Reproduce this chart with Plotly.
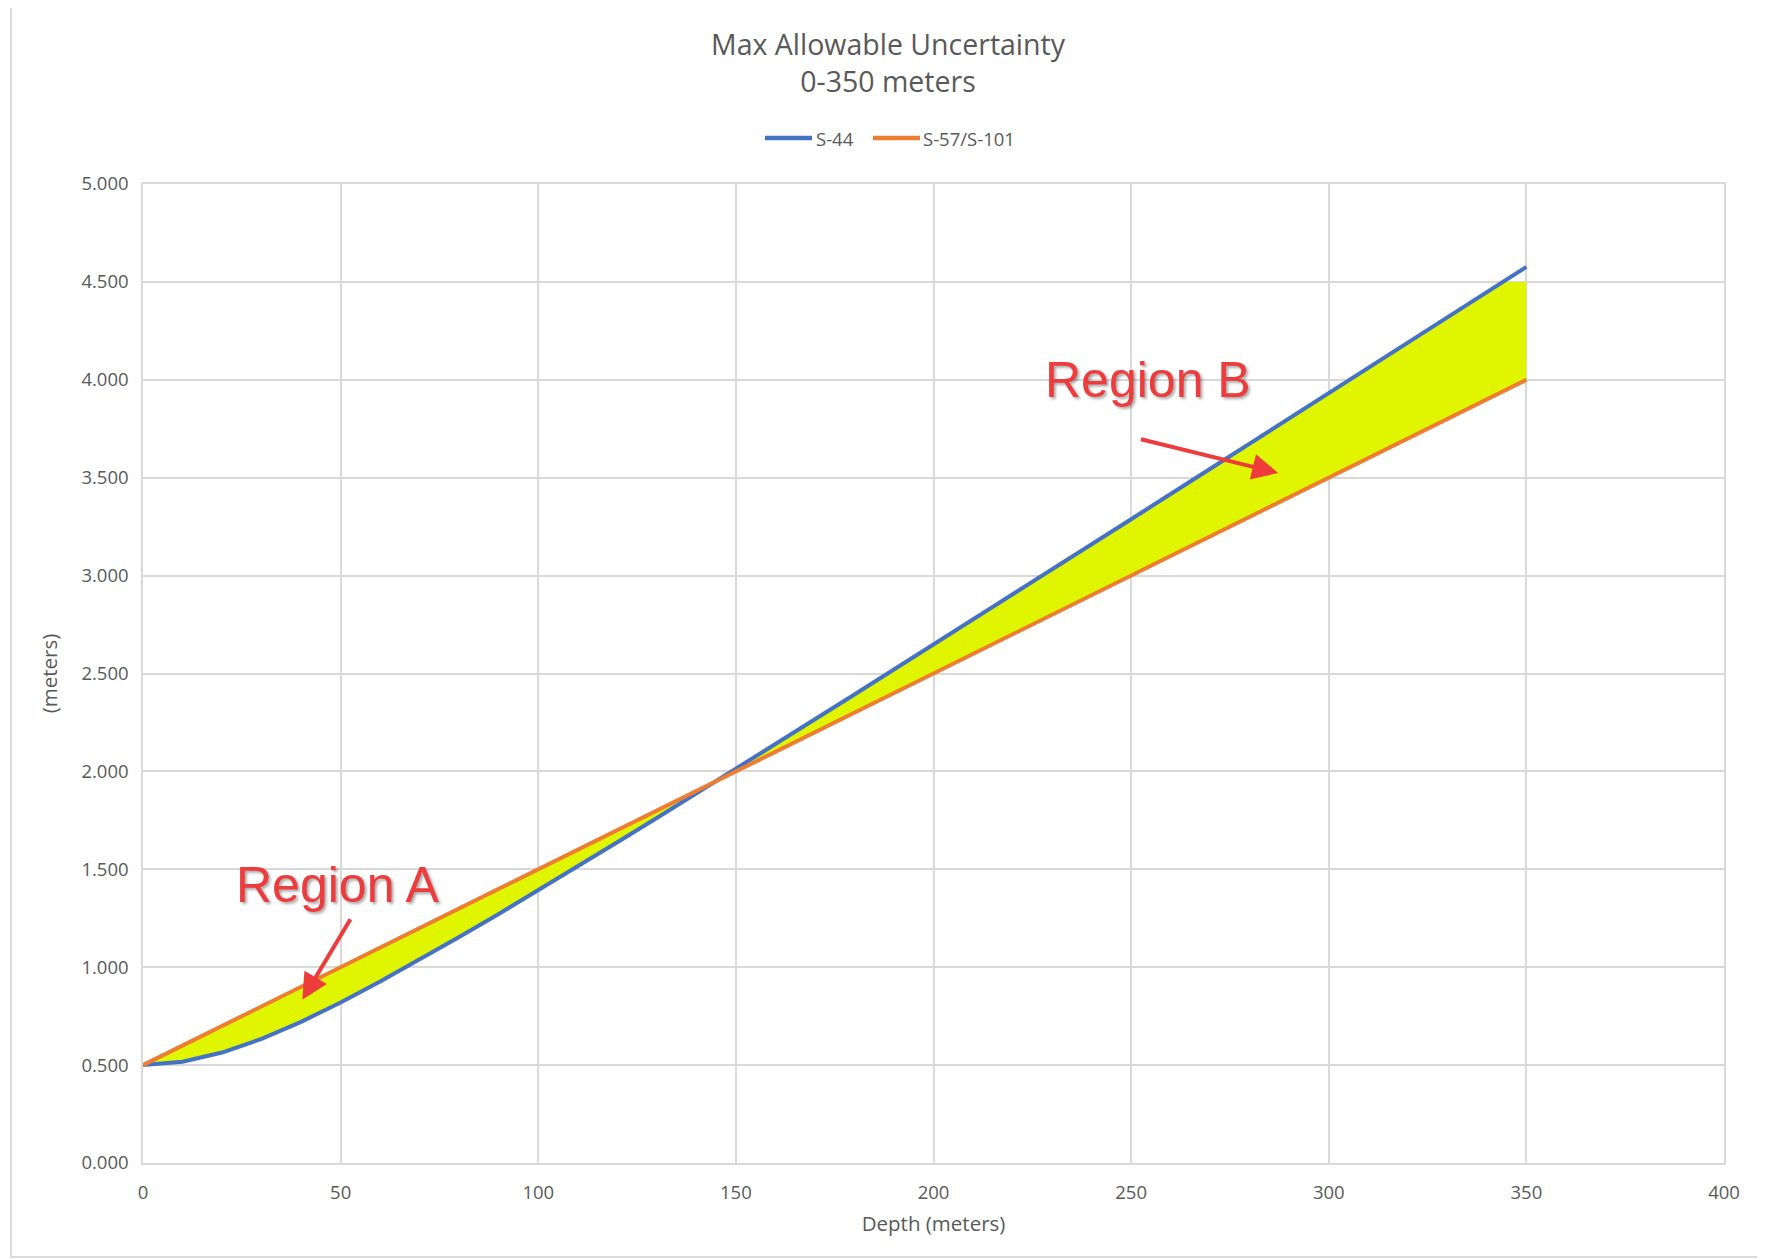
import numpy as np
import plotly.graph_objects as go

# ---- data ----
depth = [0, 10, 20, 30, 40, 50, 60, 70, 80, 90, 100, 110, 120, 130, 140, 150, 160, 170,
         180, 190, 200, 210, 220, 230, 240, 250, 260, 270, 280, 290, 300, 310, 320, 330, 340, 350]
s44 = [0.500, 0.517, 0.564, 0.634, 0.721, 0.820, 0.927, 1.038, 1.154, 1.272, 1.393, 1.515,
       1.638, 1.762, 1.887, 2.013, 2.139, 2.266, 2.393, 2.520, 2.648, 2.775, 2.903, 3.032,
       3.160, 3.288, 3.417, 3.545, 3.674, 3.803, 3.932, 4.061, 4.190, 4.319, 4.448, 4.577]
s57 = [0.50, 0.60, 0.70, 0.80, 0.90, 1.00, 1.10, 1.20, 1.30, 1.40, 1.50, 1.60, 1.70, 1.80,
       1.90, 2.00, 2.10, 2.20, 2.30, 2.40, 2.50, 2.60, 2.70, 2.80, 2.90, 3.00, 3.10, 3.20,
       3.30, 3.40, 3.50, 3.60, 3.70, 3.80, 3.90, 4.00]
fill_cap = 4.5  # yellow shading stops at 4.500
series_names = ["S-44", "S-57/S-101"]
series_colors = ["#4472C4", "#ED7D31"]
x_ticks = [0, 50, 100, 150, 200, 250, 300, 350, 400]
y_ticks = [0, 0.5, 1.0, 1.5, 2.0, 2.5, 3.0, 3.5, 4.0, 4.5, 5.0]

W, H = 1765, 1260
OFF = 8  # page body margin
ML, MR, MT, MB = 143 - OFF, 41 + OFF, 184 - OFF, 97 + OFF
GRAY = "#595959"
GRID = "#D9D9D9"
FONT = "Open Sans"

# fill polygon between the two series, top clipped at the cap
d = np.array(depth, float)
a = np.array(s44, float)
b = np.array(s57, float)
x_cap = float(np.interp(fill_cap, a, d))
mask = a < fill_cap
top_x = list(d[mask]) + [x_cap, d[-1]]
top_y = list(a[mask]) + [fill_cap, fill_cap]
poly_x = top_x + list(d[::-1])
poly_y = top_y + list(b[::-1])

fig = go.Figure()
fig.add_trace(go.Scatter(x=poly_x, y=poly_y, fill="toself", fillcolor="#E0F500",
                         mode="lines", line=dict(width=0, color="rgba(0,0,0,0)"),
                         showlegend=False, hoverinfo="skip"))
fig.add_trace(go.Scatter(x=depth, y=s44, mode="lines", name=series_names[0],
                         line=dict(color=series_colors[0], width=4), showlegend=False))
fig.add_trace(go.Scatter(x=depth, y=s57, mode="lines", name=series_names[1],
                         line=dict(color=series_colors[1], width=4), showlegend=False))

pw = W - ML - MR
ph = H - MT - MB
def px(xp):  # screen pixel -> paper x
    return (xp - OFF - ML) / pw
def py(yp):  # screen pixel -> paper y
    return (H - MB - (yp - OFF)) / ph

shapes = [dict(type="rect", xref="paper", yref="paper", x0=px(11), x1=px(1760),
               y0=py(1257), y1=py(4), line=dict(color="#D0D0D0", width=1.5),
               fillcolor="rgba(0,0,0,0)", layer="below")]

# manual legend (longer sample lines, as in the original)
leg_y = 138
leg_items = [(765, 812, 816), (873, 920, 923)]
annotations = []
for (x0, x1, xt), name, col in zip(leg_items, series_names, series_colors):
    shapes.append(dict(type="line", xref="paper", yref="paper", x0=px(x0), x1=px(x1),
                       y0=py(leg_y), y1=py(leg_y), line=dict(color=col, width=4.5)))
    annotations.append(dict(xref="paper", yref="paper", x=px(xt), y=py(leg_y), text=name,
                            showarrow=False, xanchor="left", yanchor="middle",
                            font=dict(family=FONT, size=18.5, color=GRAY),
                            borderpad=0, borderwidth=0))

fig.update_layout(
    width=W, height=H,
    margin=dict(l=ML, r=MR, t=MT, b=MB),
    paper_bgcolor="white", plot_bgcolor="white",
    font=dict(family=FONT, color=GRAY, size=18.5),
    showlegend=False,
    title=dict(text="Max Allowable Uncertainty<br>0-350 meters", x=(888 - OFF) / W,
               xanchor="center", y=1 - 47 / H, yanchor="middle", yref="container",
               font=dict(family=FONT, size=28.5, color=GRAY)),
    xaxis=dict(range=[0, 400], tickvals=x_ticks, showgrid=True, gridcolor=GRID, gridwidth=1.5,
               showline=True, linecolor=GRID, linewidth=1.5, mirror=True, zeroline=False,
               ticks="", ticklabelstandoff=12, tickfont=dict(size=18.5),
               title=dict(text="Depth (meters)", standoff=14, font=dict(size=20.5, color=GRAY))),
    yaxis=dict(range=[0, 5], tickvals=y_ticks, tickformat=".3f", showgrid=True, gridcolor=GRID,
               gridwidth=1.5, showline=True, linecolor=GRID, linewidth=1.5, mirror=True,
               zeroline=False, ticks="", ticklabelstandoff=9, tickfont=dict(size=18.5),
               title=dict(text="(meters)", standoff=18, font=dict(size=20.5, color=GRAY))),
    shapes=shapes,
    annotations=annotations,
)

RED = "#EE3B3B"
label_font = dict(family="Liberation Sans, Arial", size=50, color=RED,
                  shadow="2px 2px 3px rgba(0,0,0,0.35)")
fig.add_annotation(x=49.4, y=1.42, text="Region A", showarrow=False, font=label_font,
                   xanchor="center", yanchor="middle")
fig.add_annotation(x=254.3, y=4.0, text="Region B", showarrow=False, font=label_font,
                   xanchor="center", yanchor="middle")
fig.add_annotation(x=40.3, y=0.834, ax=52.7, ay=1.253, axref="x", ayref="y", text="",
                   showarrow=True, arrowhead=2, arrowsize=1.3, arrowwidth=4, arrowcolor=RED)
fig.add_annotation(x=287.2, y=3.524, ax=252.1, ay=3.698, axref="x", ayref="y", text="",
                   showarrow=True, arrowhead=2, arrowsize=1.3, arrowwidth=4, arrowcolor=RED)

fig.write_html("out.html")
